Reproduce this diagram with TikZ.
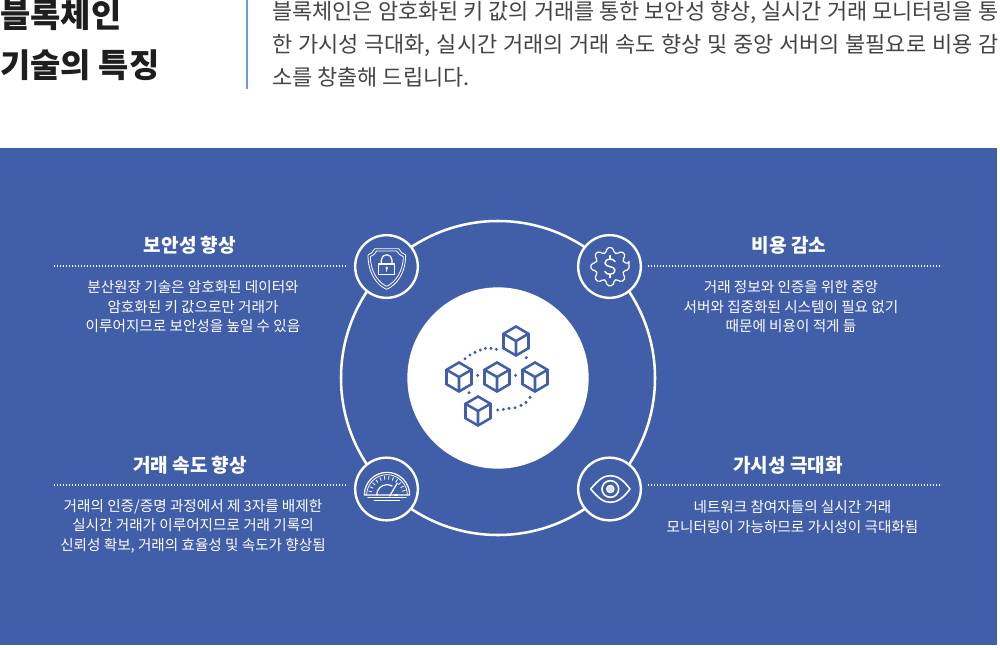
\documentclass[tikz,border=0pt]{standalone}
\usepackage{fontspec}
\newfontfamily\kr{Noto Sans CJK KR}
\definecolor{panel}{HTML}{415FA9}
\definecolor{rulec}{HTML}{6E9BD3}
\definecolor{ink}{HTML}{1E1E1E}
\definecolor{parac}{HTML}{444444}
\tikzset{
  hdtext/.style={text=white,inner sep=0pt,anchor=center,font={\kr\bfseries\fontsize{14.3}{16}\selectfont}},
  bdtext/.style={text=white,inner sep=0pt,anchor=center,align=center,font={\kr\fontsize{10.95}{14.6}\selectfont}},
  dotrule/.style={white,line width=1pt,dash pattern=on 0.9pt off 1.35pt},
  smallc/.style={circle,draw=white,fill=panel,line width=1.8pt,minimum size=47pt,inner sep=0pt},
  iconl/.style={white,line width=0.9pt,line join=round,line cap=round},
  iconf/.style={white,line width=0.6pt,line join=round,line cap=round},
  cubel/.style={panel,line width=1.9pt,line join=miter},
  bluedot/.style={fill=panel,draw=none}
}
\newcommand{\cubeat}[2]{%
  \begin{scope}[shift={(#1,#2)}]
    \draw[cubel] (0,-14.5)--(12.5,-7.2)--(12.5,7.2)--(0,14.5)--(-12.5,7.2)--(-12.5,-7.2)--cycle;
    \draw[cubel] (-12.5,-7.2)--(0,0)--(12.5,-7.2) (0,0)--(0,14.5);
  \end{scope}}
\newcommand{\paraline}[1]{\makebox[544.5pt][s]{#1}}
\begin{document}
\begin{tikzpicture}[x=0.75pt,y=-0.75pt]
\useasboundingbox (0,0) rectangle (1000,650);
% header
\node[inner sep=0pt,anchor=west,align=left,text=ink,font={\kr\bfseries\fontsize{24.7}{37.5}\selectfont}] (title) at (0,40) {블록체인\\기술의 특징};
\coordinate (barT) at (247,0);
\coordinate (barB) at (247,89);
\draw[rulec,line width=1pt] (barT)--(barB);
\node[inner sep=0pt,anchor=west,align=left,text=parac,font={\kr\fontsize{16.45}{24.75}\selectfont}] (para) at (272,44) {\paraline{블록체인은 암호화된 키 값의 거래를 통한 보안성 향상, 실시간 거래 모니터링을 통}\\\paraline{한 가시성 극대화, 실시간 거래의 거래 속도 향상 및 중앙 서버의 불필요로 비용 감}\\소를 창출해 드립니다.};
% panel
\fill[panel] (0,148) rectangle (997,645);
% rings
\node[circle,draw=white,line width=1.9pt,minimum size=235.5pt,inner sep=0pt] (ring) at (498,378) {};
\node[circle,fill=white,minimum size=136pt,inner sep=0pt] (hub) at (498,378) {};
\node[smallc] (cTL) at (386.5,266.5) {};
\node[smallc] (cTR) at (609.5,266.5) {};
\node[smallc] (cBL) at (386.5,489) {};
\node[smallc] (cBR) at (609.5,489) {};
% headings
\node[hdtext] (h1) at (190,245) {보안성 향상};
\node[hdtext] (h2) at (789,245) {비용 감소};
\node[hdtext] (h3) at (190,465) {거래 속도 향상};
\node[hdtext] (h4) at (788,465) {가시성 극대화};
% dotted rules
\coordinate (d1a) at (54,266); \coordinate (d1b) at (348,266);
\coordinate (d2a) at (648,266); \coordinate (d2b) at (942,266);
\coordinate (d3a) at (54,485); \coordinate (d3b) at (348,485);
\coordinate (d4a) at (648,485); \coordinate (d4b) at (942,485);
\draw[dotrule] (d1a)--(d1b);
\draw[dotrule] (d2a)--(d2b);
\draw[dotrule] (d3a)--(d3b);
\draw[dotrule] (d4a)--(d4b);
% bodies
\node[bdtext] (b1) at (193,307) {분산원장 기술은 암호화된 데이터와\\암호화된 키 값으로만 거래가\\이루어지므로 보안성을 높일 수 있음};
\node[bdtext] (b2) at (791,307) {거래 정보와 인증을 위한 중앙\\서버와 집중화된 시스템이 필요 없기\\때문에 비용이 적게 듦};
\node[bdtext] (b3) at (193,526) {거래의 인증/증명 과정에서 제 3자를 배제한\\실시간 거래가 이루어지므로 거래 기록의\\신뢰성 확보, 거래의 효율성 및 속도가 향상됨};
\node[bdtext] (b4) at (792.5,517) {네트워크 참여자들의 실시간 거래\\모니터링이 가능하므로 가시성이 극대화됨};
% cubes
\cubeat{516}{341}
\cubeat{459}{377}
\cubeat{497}{377}
\cubeat{535}{377}
\cubeat{478}{411}
\begin{scope}[shift={(435,320)},scale=1/3]
  \foreach \px/\py in {90/116,105/105,120/97,136/90,151/85,168/85,184/88,
    188/270,205/268,222/265,240/263,258/256,273/247,285/232,
    128/166,242/166,274/113,102/218}
    \fill[bluedot] (\px,\py) circle (5);
\end{scope}
% zoom-based icon coordinates
\begin{scope}[shift={(340,210)},scale=1/3]
  % shield
  \draw[iconf] (140,238) .. controls (110,225) and (84,190) .. (84,135) .. controls (92,132) and (100,125) .. (104,116) -- (176,116) .. controls (180,125) and (188,132) .. (197,135) .. controls (197,190) and (170,225) .. (140,238) -- cycle;
  \draw[iconf] (140,229) .. controls (115,217) and (92,187) .. (91,140) .. controls (100,137) and (106,130) .. (110,123) -- (170,123) .. controls (174,130) and (180,137) .. (190,140) .. controls (189,187) and (165,217) .. (140,229) -- cycle;
  \draw[iconl] (116,162) rectangle (164,193);
  \draw[iconl] (124,162) -- (124,150) arc[start angle=180,end angle=360,radius=16] -- (156,162);
  \fill[white] (140,174) circle (4);
  \draw[iconf] (140,174) -- (140,184);
  % dollar gear
  \begin{scope}[shift={(810,170)}]
    \draw[iconl,rounded corners=1.5pt] (-10:58) \foreach \a in {0,45,...,315} { -- (\a-10:58) -- (\a+10:58) -- (\a+15:43) -- (\a+30:43) } -- cycle;
    \draw[iconl,line width=1.1pt] (15,-15) .. controls (12,-26) and (-15,-26) .. (-15,-11) .. controls (-15,3) and (15,-3) .. (15,11) .. controls (15,26) and (-12,26) .. (-15,15);
    \draw[iconl,line width=1.1pt] (0,-33) -- (0,-23) (0,23) -- (0,33);
  \end{scope}
  % gauge
  \begin{scope}[shift={(141,855)}]
    \draw[iconl] (-68,0) arc[start angle=180,end angle=360,radius=68] -- cycle;
    \draw[iconf] (-61,0) arc[start angle=180,end angle=360,radius=61];
    \foreach \a in {192,206,...,346} \draw[iconf] (\a:47) -- (\a:56);
    \draw[iconl] (-31,0) arc[start angle=180,end angle=300,radius=31];
    \draw[iconl] (8,3) -- (31,-36);
    \draw[iconl] (23,0) -- (31,0);
    \draw[iconl] (-57,7) -- (57,7);
    \draw[iconl] (-38,16) -- (38,16);
  \end{scope}
  % eye
  \draw[iconl,line width=1.2pt] (752,837) .. controls (775,810) and (790,797) .. (811,797) .. controls (832,797) and (850,810) .. (870,837) .. controls (850,864) and (832,877) .. (811,877) .. controls (790,877) and (775,864) .. (752,837) -- cycle;
  \draw[iconl,line width=1.2pt] (811,837) circle (25);
  \draw[iconl,fill=white!80!panel] (811,837) circle (11);
\end{scope}
\end{tikzpicture}
\end{document}
